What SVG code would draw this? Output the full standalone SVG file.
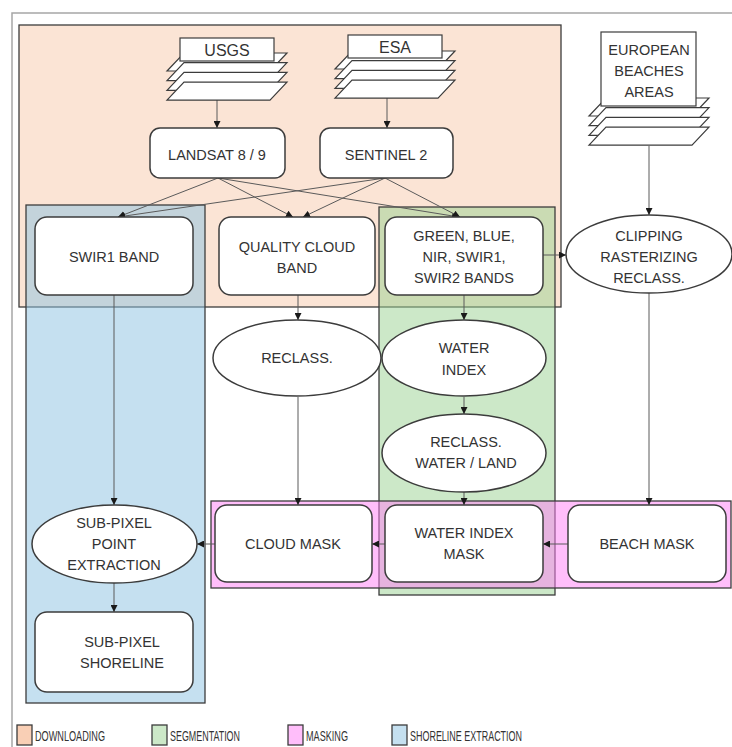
<svg xmlns="http://www.w3.org/2000/svg" xmlns:xlink="http://www.w3.org/1999/xlink" width="732" height="747" viewBox="0 0 732 747">
<style>
  text { font-family: "Liberation Sans", Arial, sans-serif; font-size: 14.5px; fill: #333333; text-anchor: middle; }
  .big { font-size: 16px; }
  .leg { text-anchor: start; font-size: 14px; }
  .node { fill: #ffffff; stroke: #3c3c3c; stroke-width: 1.5; }
  .grp { stroke: #3c3c3c; stroke-width: 1.3; }
  .conn { stroke: #5a5a5a; stroke-width: 1; fill: none; marker-end: url(#arr); }
  .sheet { fill: #ffffff; stroke: #3c3c3c; stroke-width: 1.2; stroke-linejoin: miter; }
</style>
<defs>
  <marker id="arr" viewBox="0 0 10 10" refX="10" refY="5" markerWidth="7" markerHeight="7" markerUnits="userSpaceOnUse" orient="auto">
    <path d="M0,0 L10,5 L0,10 Z" fill="#1a1a1a"/>
  </marker>
  <g id="stack">
    <polygon class="sheet" points="17,0 120,0 103,18 0,18"/>
    <polygon class="sheet" points="17,9.7 120,9.7 103,27.7 0,27.7"/>
    <polygon class="sheet" points="17,19.4 120,19.4 103,37.4 0,37.4"/>
    <polygon class="sheet" points="17,29.1 120,29.1 103,47.1 0,47.1"/>
  </g>
</defs>
<rect width="732" height="747" fill="#ffffff"/>
<!-- outer frame -->
<path d="M12,747 V13 H732" fill="none" stroke="#a6a6a6" stroke-width="1.5"/>

<!-- phase groups -->
<g id="groups">
  <rect id="downloading" class="grp" x="19" y="25" width="542" height="282" fill="#FBE4D5"/>
  <rect id="shoreline-extraction" class="grp" x="26" y="205" width="179" height="498" fill="rgb(139,193,225)" fill-opacity="0.5"/>
  <rect id="segmentation" class="grp" x="379" y="207" width="176" height="388" fill="rgb(153,209,145)" fill-opacity="0.5"/>
  <rect id="masking" class="grp" x="211" y="501" width="520" height="87" fill="rgb(255,125,245)" fill-opacity="0.5"/>
</g>

<!-- connectors -->
<g id="connectors">
  <line class="conn" x1="217" y1="100" x2="217" y2="128"/>
  <line class="conn" x1="387" y1="98" x2="387" y2="128"/>
  <line class="conn" x1="649" y1="146" x2="649" y2="215"/>
  <line class="conn" x1="218" y1="178" x2="118" y2="217"/>
  <line class="conn" x1="218" y1="178" x2="293" y2="217"/>
  <line class="conn" x1="218" y1="178" x2="459" y2="217"/>
  <line class="conn" x1="385" y1="178" x2="118" y2="217"/>
  <line class="conn" x1="385" y1="178" x2="303" y2="217"/>
  <line class="conn" x1="385" y1="178" x2="460" y2="217"/>
  <line class="conn" x1="543" y1="255" x2="566" y2="255"/>
  <line class="conn" x1="114" y1="295" x2="114" y2="505"/>
  <line class="conn" x1="298" y1="295" x2="298" y2="320"/>
  <line class="conn" x1="464" y1="295" x2="464" y2="320"/>
  <line class="conn" x1="298" y1="397" x2="298" y2="505"/>
  <line class="conn" x1="464" y1="397" x2="464" y2="414"/>
  <line class="conn" x1="464" y1="492" x2="464" y2="505"/>
  <line class="conn" x1="649" y1="293" x2="649" y2="505"/>
  <line class="conn" x1="568" y1="544" x2="543" y2="544"/>
  <line class="conn" x1="385" y1="544" x2="372" y2="544"/>
  <line class="conn" x1="215" y1="544" x2="197" y2="544"/>
  <line class="conn" x1="114" y1="583" x2="114" y2="612"/>
</g>

<!-- nodes -->
<g id="usgs">
  <use xlink:href="#stack" x="167" y="53"/>
  <rect class="sheet" x="180" y="38" width="94" height="23"/>
  <text class="big" x="227" y="56">USGS</text>
</g>
<g id="esa">
  <use xlink:href="#stack" x="335" y="51"/>
  <rect class="sheet" x="348" y="35" width="94" height="23"/>
  <text class="big" x="395" y="53">ESA</text>
</g>
<g id="european-beaches">
  <use xlink:href="#stack" x="589" y="98"/>
  <rect class="sheet" x="601" y="32" width="95" height="74"/>
  <text x="649" y="55">EUROPEAN</text>
  <text x="649" y="76">BEACHES</text>
  <text x="649" y="97">AREAS</text>
</g>
<g id="landsat">
  <rect class="node" x="150" y="128" width="135" height="50" rx="10"/>
  <text x="217" y="160">LANDSAT 8 / 9</text>
</g>
<g id="sentinel">
  <rect class="node" x="320" y="128" width="133" height="50" rx="10"/>
  <text x="386" y="160">SENTINEL 2</text>
</g>
<g id="swir1-band">
  <rect class="node" x="35" y="217" width="158" height="78" rx="12"/>
  <text x="114" y="262">SWIR1 BAND</text>
</g>
<g id="quality-cloud-band">
  <rect class="node" x="219" y="217" width="156" height="78" rx="12"/>
  <text x="297" y="252">QUALITY CLOUD</text>
  <text x="297" y="273">BAND</text>
</g>
<g id="bands">
  <rect class="node" x="385" y="217" width="158" height="78" rx="12"/>
  <text x="464" y="241">GREEN, BLUE,</text>
  <text x="464" y="262">NIR, SWIR1,</text>
  <text x="464" y="283">SWIR2 BANDS</text>
</g>
<g id="clipping">
  <ellipse class="node" cx="649" cy="254" rx="83" ry="39"/>
  <text x="649" y="241">CLIPPING</text>
  <text x="649" y="262">RASTERIZING</text>
  <text x="649" y="283">RECLASS.</text>
</g>
<g id="reclass">
  <ellipse class="node" cx="297" cy="358" rx="84" ry="38"/>
  <text x="297" y="363">RECLASS.</text>
</g>
<g id="water-index">
  <ellipse class="node" cx="464" cy="358" rx="82" ry="38"/>
  <text x="464" y="353">WATER</text>
  <text x="464" y="375">INDEX</text>
</g>
<g id="reclass-water-land">
  <ellipse class="node" cx="464" cy="453" rx="82" ry="39"/>
  <text x="466" y="447">RECLASS.</text>
  <text x="466" y="468">WATER / LAND</text>
</g>
<g id="cloud-mask">
  <rect class="node" x="215" y="505" width="157" height="77" rx="12"/>
  <text x="293" y="549">CLOUD MASK</text>
</g>
<g id="water-index-mask">
  <rect class="node" x="385" y="505" width="158" height="77" rx="12"/>
  <text x="464" y="538">WATER INDEX</text>
  <text x="464" y="559">MASK</text>
</g>
<g id="beach-mask">
  <rect class="node" x="568" y="505" width="158" height="77" rx="12"/>
  <text x="647" y="549">BEACH MASK</text>
</g>
<g id="sub-pixel-point">
  <ellipse class="node" cx="114.5" cy="544" rx="82.5" ry="39"/>
  <text x="114" y="528">SUB-PIXEL</text>
  <text x="114" y="549">POINT</text>
  <text x="114" y="570">EXTRACTION</text>
</g>
<g id="sub-pixel-shoreline">
  <rect class="node" x="35" y="612" width="158" height="80" rx="12"/>
  <text x="122" y="647">SUB-PIXEL</text>
  <text x="122" y="668">SHORELINE</text>
</g>

<!-- legend -->
<g id="legend">
  <rect class="grp" x="17" y="725" width="15" height="20" fill="#F9CFB5" stroke-width="1"/>
  <text class="leg" x="35" y="741" textLength="70" lengthAdjust="spacingAndGlyphs">DOWNLOADING</text>
  <rect class="grp" x="152" y="725" width="15" height="20" fill="#CCE8C8" stroke-width="1"/>
  <text class="leg" x="170" y="741" textLength="70" lengthAdjust="spacingAndGlyphs">SEGMENTATION</text>
  <rect class="grp" x="288" y="725" width="15" height="20" fill="#FFBEFA" stroke-width="1"/>
  <text class="leg" x="306" y="741" textLength="42" lengthAdjust="spacingAndGlyphs">MASKING</text>
  <rect class="grp" x="392" y="725" width="15" height="20" fill="#C5E0F0" stroke-width="1"/>
  <text class="leg" x="410" y="741" textLength="112" lengthAdjust="spacingAndGlyphs">SHORELINE EXTRACTION</text>
</g>
</svg>
